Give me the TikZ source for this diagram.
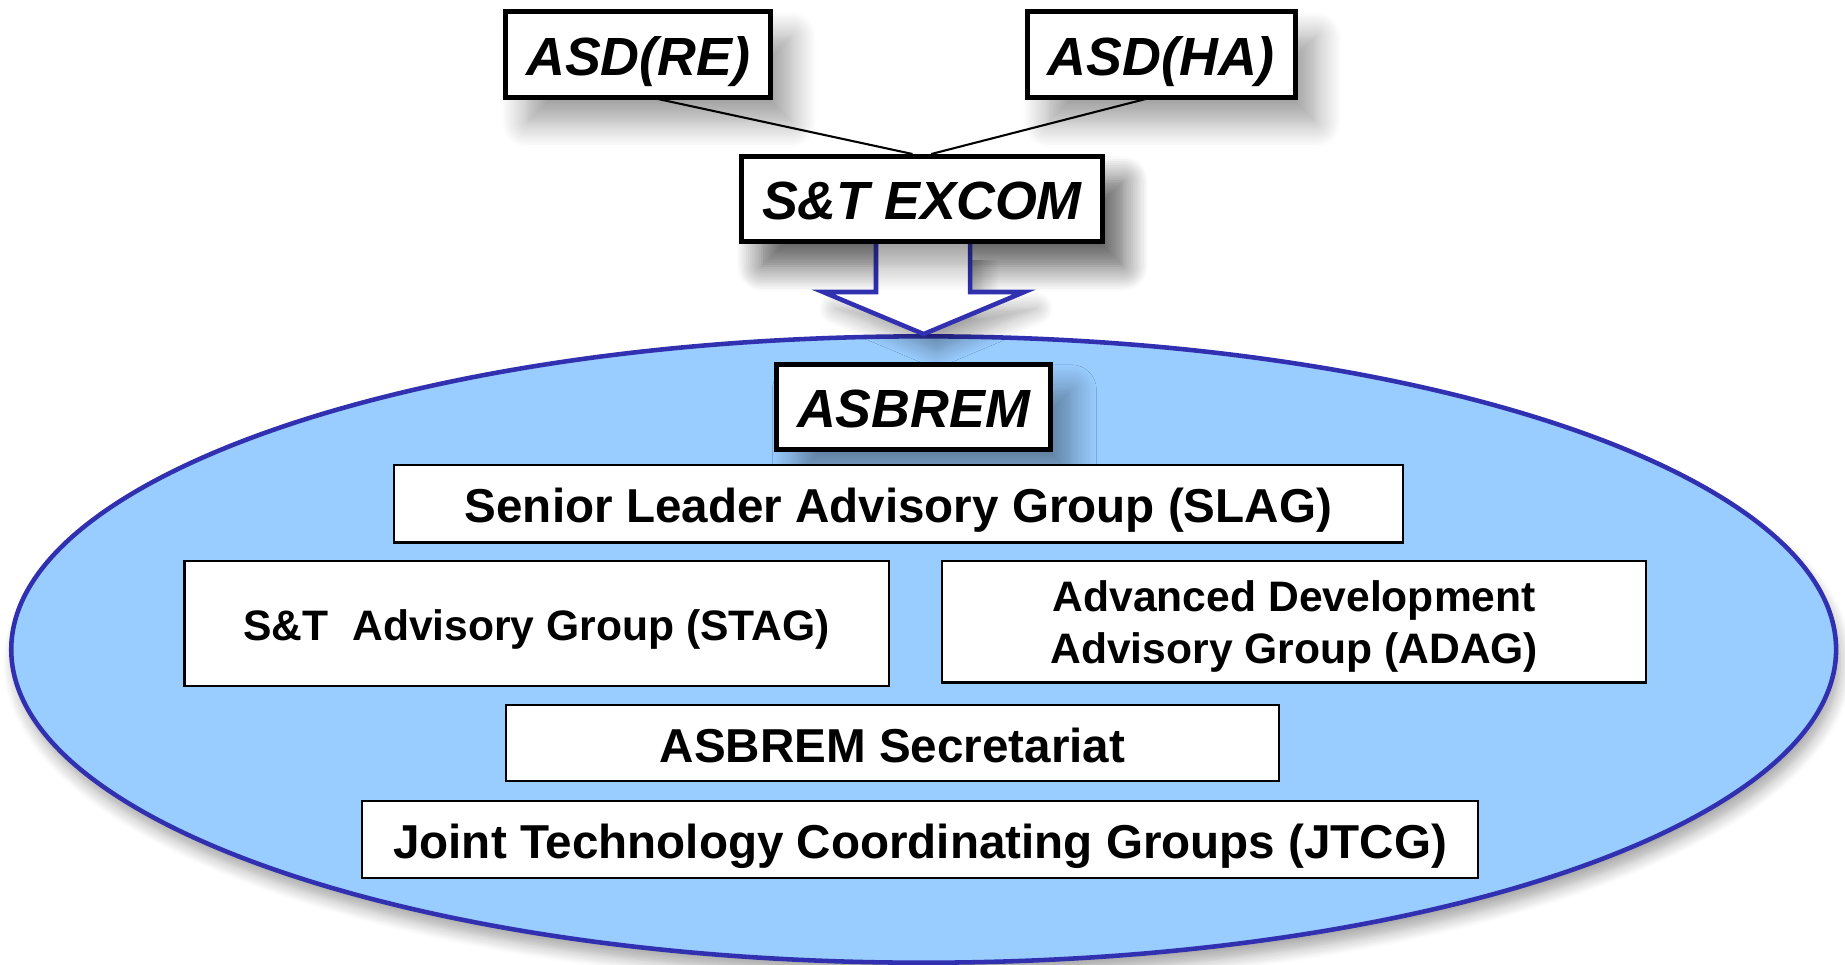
\documentclass[tikz,border=0pt]{standalone}
\usepackage{fontspec}
\setmainfont{Liberation Sans}
\usetikzlibrary{shadows.blur,calc,shapes.geometric}
\definecolor{ellfill}{HTML}{99CCFF}
\definecolor{ellline}{HTML}{3030B0}
\begin{document}
\begin{tikzpicture}[x=0.01cm,y=-0.01cm,
  topbox/.style={draw=black,line width=1.2pt,fill=white,inner sep=0pt,
    text height=10.4pt,text depth=0.5pt,
    font=\fontsize{13}{15}\selectfont\bfseries\itshape,
    blur shadow={shadow xshift=5pt,shadow yshift=-6pt,shadow blur radius=6pt,
      shadow blur steps=12,shadow opacity=38}},
  subbox/.style={draw=black,line width=0.5pt,fill=white,inner sep=0pt,
    text height=9.2pt,text depth=0pt,
    font=\fontsize{11.5}{15}\selectfont\bfseries},
  smallsub/.style={subbox,text height=8.24pt,font=\fontsize{10.3}{12.3}\selectfont\bfseries},
  twoline/.style={draw=black,line width=0.5pt,fill=white,inner sep=0pt,
    font=\fontsize{10.3}{12.4}\selectfont\bfseries},
  link/.style={draw=black,line width=0.5pt}]
\useasboundingbox (0,0) rectangle (1568,820);
% ellipse
\node[draw=ellline,line width=1.1pt,fill=ellfill,ellipse,inner sep=0pt,
  minimum width=15.50cm,minimum height=5.32cm,
  blur shadow={shadow xshift=1pt,shadow yshift=-3pt,shadow blur radius=3pt,
    shadow blur steps=8,shadow opacity=35}]
  (ell) at (785,552) {};
% top boxes
\node[topbox,minimum width=2.25cm,minimum height=0.73cm] (re) at (542.5,46.5) {ASD(RE)};
\node[topbox,minimum width=2.28cm,minimum height=0.73cm] (ha) at (987,46.5) {ASD(HA)};
\node[topbox,minimum width=3.07cm,minimum height=0.72cm] (ex) at (783.5,169) {S\&T EXCOM};
% block arrow
\coordinate (tip) at (ell.north);
\path[draw=ellline,line width=1.1pt,fill=white,line join=miter,
  blur shadow={shadow xshift=3pt,shadow yshift=-4pt,shadow blur radius=4pt,
    shadow blur steps=10,shadow opacity=35}]
  ($(ex.south)+(-39,0)$) -- ($(ex.south)+(-39,41)$) -- ($(ex.south)+(-84,41)$) -- (tip)
  -- ($(ex.south)+(87,41)$) -- ($(ex.south)+(41,41)$) -- ($(ex.south)+(41,0)$);
% redraw excom on top of arrow
\node[topbox,minimum width=3.07cm,minimum height=0.72cm] at (ex.center) {S\&T EXCOM};
% links
\coordinate (rel) at (554,83);
\coordinate (hal) at (978,83);
\draw[link] (rel) -- ($(ex.north)+(-8,0)$);
\draw[link] (hal) -- ($(ex.north)+(8,0)$);
% ASBREM
\node[topbox,minimum width=2.33cm,minimum height=0.72cm] (asb) at (776.5,346) {ASBREM};
% sub boxes
\node[subbox,minimum width=8.57cm,minimum height=0.66cm] (slag) at (763.5,428) {Senior Leader Advisory Group (SLAG)};
\node[smallsub,minimum width=5.98cm,minimum height=1.06cm] (stag) at (456,530) {S\&T\ \ Advisory Group (STAG)};
\node[twoline,minimum width=5.98cm,minimum height=1.03cm] (adag) at (1100,528.5)
  {\raisebox{-1.3pt}[\height][\depth]{\begin{tabular}{@{}c@{}}Advanced Development\\Advisory Group (ADAG)\end{tabular}}};
\node[subbox,minimum width=6.57cm,minimum height=0.65cm] (sec) at (758.5,631.5) {ASBREM Secretariat};
\node[subbox,minimum width=9.48cm,minimum height=0.65cm] (jtcg) at (782,713.5) {Joint Technology Coordinating Groups (JTCG)};
\end{tikzpicture}
\end{document}
